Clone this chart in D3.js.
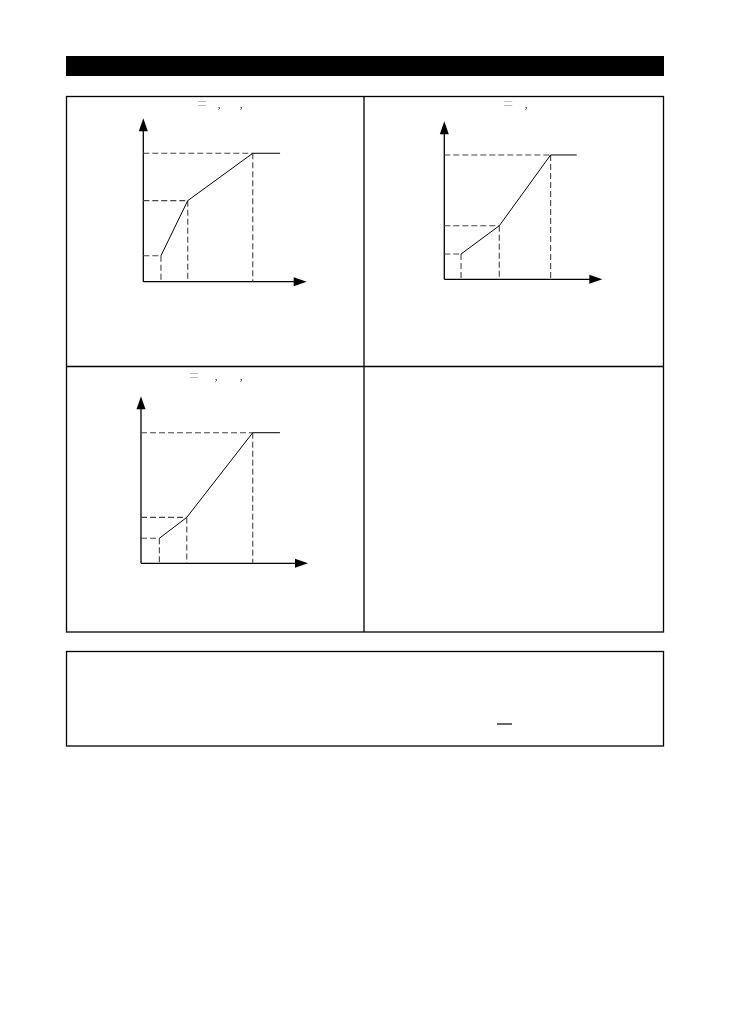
<!DOCTYPE html>
<html>
<head>
<meta charset="utf-8">
<script src="https://cdn.jsdelivr.net/npm/d3@7"></script>
<style>
  html, body { margin: 0; padding: 0; background: #fff; }
  svg { display: block; font-family: "Liberation Serif", "DejaVu Serif", serif; }
  .titles { will-change: transform; }
</style>
</head>
<body>
<svg id="page" width="738" height="1020"></svg>
<script>
// break points of each curve, in percent of axis length
const curve1X = [10.8, 27.2, 67, 83.7];
const curve1Y = [15.9, 49.6, 78.6, 78.6];
const curve2X = [10.6, 34.8, 67.3, 83.8];
const curve2Y = [16, 33.9, 78.7, 78.7];
const curve3X = [11, 27.4, 66.9, 83.2];
const curve3Y = [15, 27.5, 78.2, 78.2];

// caption fragments left after the text was lost
const titles1 = ["=", ",", ","];
const titles2 = ["=", ","];
const titles3 = ["=", ",", ","];

const svg = d3.select("#page");

// header bar
svg.append("rect")
  .attr("x", 66).attr("y", 56)
  .attr("width", 598).attr("height", 20)
  .attr("fill", "#000");

// 2x2 frame
const frame = svg.append("g")
  .attr("fill", "none")
  .attr("stroke", "#000")
  .attr("stroke-width", 1.3);
frame.append("rect").attr("x", 66.5).attr("y", 96.5).attr("width", 597).attr("height", 535.5);
frame.append("line").attr("x1", 364).attr("x2", 364).attr("y1", 96.5).attr("y2", 632);
frame.append("line").attr("x1", 66.5).attr("x2", 663.5).attr("y1", 366.5).attr("y2", 366.5);

// note box underneath
frame.append("rect").attr("x", 66.5).attr("y", 651.5).attr("width", 597).attr("height", 94.5);
svg.append("line")
  .attr("x1", 497).attr("x2", 512)
  .attr("y1", 724).attr("y2", 724)
  .attr("stroke", "#000").attr("stroke-width", 1.2);

const panels = [
  { xs: curve1X, ys: curve1Y, titles: titles1, ox: 143.3, oy: 281.7, len: 163.4, tx: [202, 219, 241], ty: 110 },
  { xs: curve2X, ys: curve2Y, titles: titles2, ox: 444.3, oy: 279.3, len: 158, tx: [508, 526], ty: 110 },
  { xs: curve3X, ys: curve3Y, titles: titles3, ox: 141, oy: 563.3, len: 167, tx: [194, 216, 241], ty: 382 },
];

panels.forEach((p) => {
  const x = d3.scaleLinear().domain([0, 100]).range([p.ox, p.ox + p.len]);
  const y = d3.scaleLinear().domain([0, 100]).range([p.oy, p.oy - p.len]);
  const g = svg.append("g");

  // axes with arrowheads
  g.append("line")
    .attr("x1", x(0)).attr("x2", x(100) - 10)
    .attr("y1", y(0)).attr("y2", y(0))
    .attr("stroke", "#000").attr("stroke-width", 1.3);
  g.append("line")
    .attr("x1", x(0)).attr("x2", x(0))
    .attr("y1", y(0)).attr("y2", y(100) + 10)
    .attr("stroke", "#000").attr("stroke-width", 1.3);
  g.append("path")
    .attr("d", `M${x(100)},${y(0)} L${x(100) - 13},${y(0) - 4.5} L${x(100) - 13},${y(0) + 4.5} Z`)
    .attr("fill", "#000");
  g.append("path")
    .attr("d", `M${x(0)},${y(100)} L${x(0) - 4.5},${y(100) + 13} L${x(0) + 4.5},${y(100) + 13} Z`)
    .attr("fill", "#000");

  const pts = p.xs.map((d, i) => [d, p.ys[i]]);
  const corners = pts.slice(0, 3);

  // dashed guides
  g.selectAll(".hguide")
    .data(corners)
    .join("line")
    .attr("class", "hguide")
    .attr("x1", x(0)).attr("x2", (d) => x(d[0]))
    .attr("y1", (d) => y(d[1])).attr("y2", (d) => y(d[1]))
    .attr("stroke", "#444").attr("stroke-width", 1.1)
    .attr("stroke-dasharray", "6,3");
  g.selectAll(".vguide")
    .data(corners)
    .join("line")
    .attr("class", "vguide")
    .attr("x1", (d) => x(d[0])).attr("x2", (d) => x(d[0]))
    .attr("y1", (d) => y(d[1])).attr("y2", y(0))
    .attr("stroke", "#444").attr("stroke-width", 1.1)
    .attr("stroke-dasharray", "6,3");

  // curve
  g.append("path")
    .datum(pts)
    .attr("d", d3.line().x((d) => x(d[0])).y((d) => y(d[1])))
    .attr("fill", "none")
    .attr("stroke", "#000")
    .attr("stroke-width", 1);

  // title remnants
  g.append("g")
    .attr("class", "titles")
    .selectAll("text")
    .data(p.titles)
    .join("text")
    .attr("x", (d, i) => p.tx[i])
    .attr("y", (d) => (d === "=" ? p.ty : p.ty - 2))
    .attr("text-anchor", "middle")
    .attr("font-size", (d) => (d === "=" ? 18 : 11))
    .attr("fill", (d) => (d === "=" ? "#bbb" : "#000"))
    .text((d) => d);
});
</script>
</body>
</html>
